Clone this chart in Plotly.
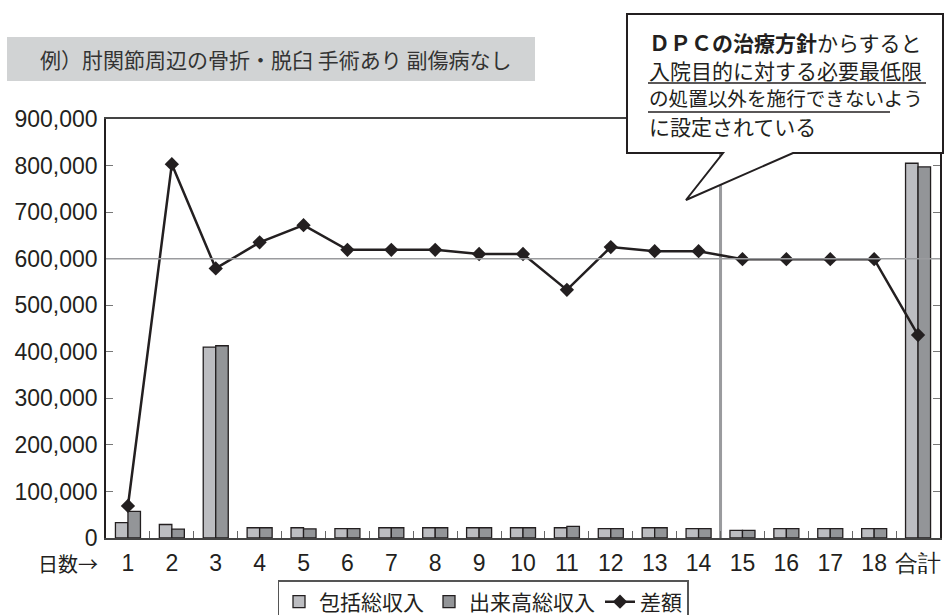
import plotly.graph_objects as go

# ---- data ----
categories = ["1", "2", "3", "4", "5", "6", "7", "8", "9", "10",
              "11", "12", "13", "14", "15", "16", "17", "18", "合計"]
hokatsu = [33000, 29000, 410000, 22000, 22000, 20000, 22000, 22000, 22000, 22000,
           22000, 20000, 22000, 20000, 16500, 20000, 20000, 20000, 805000]
dekidaka = [57000, 19000, 413000, 22000, 19500, 20000, 22000, 22000, 22000, 22000,
            25000, 20000, 22000, 20000, 16500, 20000, 20000, 20000, 797000]
sagaku = [69000, 803000, 579000, 635000, 672000, 619000, 619000, 619000, 610000, 610000,
          533000, 625000, 616000, 616000, 599000, 599000, 599000, 599000, 436000]
y_ticks = [0, 100000, 200000, 300000, 400000, 500000, 600000, 700000, 800000, 900000]
names = ["包括総収入", "出来高総収入", "差額"]
title_text = "例）肘関節周辺の骨折・脱臼 手術あり 副傷病なし"
x_label = "日数→"
callout_lines = ["<b>ＤＰＣの治療方針</b>からすると",
                 "入院目的に対する必要最低限",
                 "の処置以外を施行できないよう",
                 "に設定されている"]

# ---- layout geometry (pixels) ----
W, H = 944, 615
L, R, T, B = 106, 940, 119, 538


def px(x):
    return (x - L) / (R - L)


def py(y):
    return (B - y) / (B - T)


CJK = "Noto Sans CJK JP, sans-serif"
NUM = "Liberation Sans, Arial, sans-serif"
INK = "#231f20"

fig = go.Figure()
fig.add_trace(go.Bar(x=categories, y=hokatsu, name=names[0],
                     marker=dict(color="#bcbdc1", line=dict(color=INK, width=1.3))))
fig.add_trace(go.Bar(x=categories, y=dekidaka, name=names[1],
                     marker=dict(color="#939598", line=dict(color=INK, width=1.3))))
fig.add_trace(go.Scatter(x=categories, y=sagaku, name=names[2], mode="lines+markers",
                         line=dict(color=INK, width=2.5),
                         marker=dict(symbol="diamond", size=11, color=INK)))

shapes = []
# title box
shapes.append(dict(type="rect", xref="paper", yref="paper",
                   x0=px(7), x1=px(535), y0=py(37), y1=py(81),
                   fillcolor="#d1d3d4", line=dict(width=0), layer="above"))
# vertical separator between 14 and 15
shapes.append(dict(type="line", xref="x", yref="y", x0=13.5, x1=13.5, y0=0, y1=900000,
                   line=dict(color="#9a9b9e", width=3), layer="below"))
# reference line at 600,000
shapes.append(dict(type="line", xref="paper", yref="y", x0=0, x1=1, y0=600000, y1=600000,
                   line=dict(color="#9a9b9e", width=1.5), layer="above"))
# callout bubble
pts = [(627, 14), (943, 14), (943, 153), (793, 153), (686, 200), (723, 153), (627, 153)]
path = "M " + " L ".join(f"{px(a):.5f},{py(b):.5f}" for a, b in pts) + " Z"
shapes.append(dict(type="path", xref="paper", yref="paper", path=path,
                   fillcolor="white", line=dict(color=INK, width=2), layer="above"))
# underlines in callout
shapes.append(dict(type="line", xref="paper", yref="paper", x0=px(648), x1=px(926),
                   y0=py(83), y1=py(83), line=dict(color=INK, width=1.5), layer="above"))
shapes.append(dict(type="line", xref="paper", yref="paper", x0=px(648), x1=px(890),
                   y0=py(112), y1=py(112), line=dict(color=INK, width=1.5), layer="above"))

annotations = []
annotations.append(dict(text=title_text, xref="paper", yref="paper", x=px(38), y=py(59),
                        xanchor="left", yanchor="middle", showarrow=False,
                        font=dict(family=CJK, size=21, color="#333333")))
annotations.append(dict(text=x_label, xref="paper", yref="paper", x=px(100), y=py(563),
                        xanchor="right", yanchor="middle", showarrow=False,
                        font=dict(family=CJK, size=20, color=INK)))
line_y = [42, 70, 98, 126]
line_size = [21, 21, 19.6, 21]
for txt, yy, sz in zip(callout_lines, line_y, line_size):
    annotations.append(dict(text=txt, xref="paper", yref="paper", x=px(647), y=py(yy),
                            xanchor="left", yanchor="middle", showarrow=False,
                            font=dict(family=CJK, size=sz, color=INK)))

fig.update_layout(
    width=W, height=H,
    margin=dict(l=L, r=W - R, t=T, b=H - B, autoexpand=False),
    paper_bgcolor="white", plot_bgcolor="white",
    barmode="group", bargap=0.43, bargroupgap=0,
    showlegend=True,
    legend=dict(orientation="h", x=px(483), y=py(580), xanchor="center", yanchor="top",
                font=dict(family=CJK, size=21, color=INK),
                bordercolor="#555555", borderwidth=1.5, bgcolor="white",
                traceorder="normal"),
    shapes=shapes, annotations=annotations,
)
fig.update_xaxes(type="category", range=[-0.5, 18.5], showline=True, linecolor="#444444",
                 linewidth=1.5, mirror=True, ticks="inside", tickson="boundaries",
                 ticklen=7, tickcolor="#666666", tickwidth=1.2, showgrid=False,
                 tickangle=0,
                 tickfont=dict(family=NUM, size=23, color=INK), ticklabelstandoff=4)
fig.update_yaxes(range=[0, 900000], tickvals=y_ticks, tickformat=",d", showline=True,
                 linecolor="#231f20", linewidth=1.5, mirror="ticks", ticks="inside",
                 ticklen=7, tickcolor="#777777", tickwidth=1.2, showgrid=False,
                 zeroline=False, tickfont=dict(family=NUM, size=23, color=INK),
                 ticklabelstandoff=2)

fig.write_html("out.html")
